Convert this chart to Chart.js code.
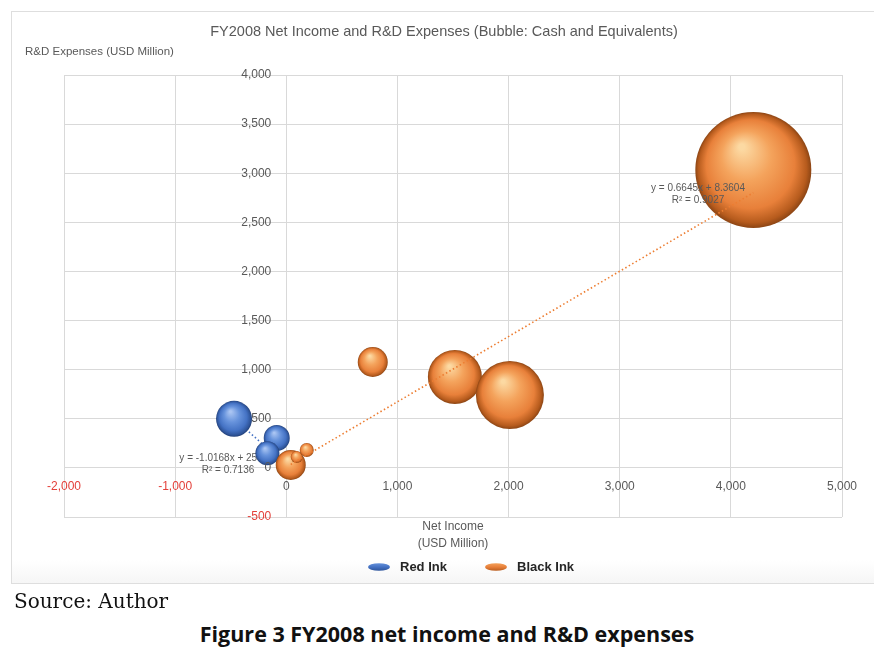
<!DOCTYPE html>
<html>
<head>
<meta charset="utf-8">
<script src="https://cdn.jsdelivr.net/npm/chart.js@4"></script>
<style>
  body { margin: 0; background: #fff; width: 874px; height: 652px; overflow: hidden; position: relative; }
  #box { position: absolute; left: 11px; top: 11px; width: 880px; height: 571px; border: 1px solid #dedede; background: linear-gradient(#fff 96%, #f6f6f6); }
  #wrap { position: absolute; left: 0; top: 0; width: 874px; height: 590px; }
  #source { position: absolute; left: 14px; top: 589px; font: 20px 'DejaVu Serif', serif; color: #111; }
  #caption { position: absolute; left: 0; top: 619px; width: 894px; text-align: center; font: bold 21.5px 'Open Sans', sans-serif; color: #111; }
</style>
</head>
<body>
<div id="box"></div>
<div id="wrap"><canvas id="chart"></canvas></div>
<div id="source">Source: Author</div>
<div id="caption">Figure 3 FY2008 net income and R&amp;D expenses</div>
<script>
// valores (USD milhões); tamanho = raio da bolha em px
const redInkX = [-470, -86, -170];
const redInkY = [500, 304, 150];
const redInkSize = [18, 13, 12];

const blackInkX = [40, 94, 184, 778, 1517, 2012, 4202];
const blackInkY = [30, 111, 182, 1078, 926, 742, 3033];
const blackInkSize = [15, 6, 7, 15, 27, 34, 58];

// linhas de tendência (extremos)
const redTrendX = [-470, -86];
const redTrendY = [503, 112];
const blackTrendX = [40, 4202];
const blackTrendY = [35, 2801];

const xTicks = [-2000, -1000, 0, 1000, 2000, 3000, 4000, 5000];
const yTicks = [-500, 0, 500, 1000, 1500, 2000, 2500, 3000, 3500, 4000];

const FONT = "'Liberation Sans', Arial, sans-serif";
const GREY = '#595959';
const RED = '#e3403a';

function toPoints(xs, ys, rs) {
  return xs.map((x, i) => rs ? { x: x, y: ys[i], r: rs[i] } : { x: x, y: ys[i] });
}

// gradiente para dar o efeito 3D das bolhas
function sphere(stops) {
  return function (ctx) {
    if (ctx.type !== 'data' || !ctx.raw) return stops[2];
    const chart = ctx.chart;
    const sx = chart.scales.x, sy = chart.scales.y;
    if (!sx || !sy) return stops[2];
    const cx = sx.getPixelForValue(ctx.raw.x);
    const cy = sy.getPixelForValue(ctx.raw.y);
    const r = ctx.raw.r;
    if (!isFinite(cx) || !isFinite(cy) || !isFinite(r)) return stops[2];
    const g = chart.ctx.createRadialGradient(cx - r * 0.2, cy - r * 0.4, r * 0.05, cx, cy, r);
    g.addColorStop(0, stops[0]);
    g.addColorStop(0.4, stops[1]);
    g.addColorStop(0.75, stops[2]);
    g.addColorStop(0.93, stops[3]);
    g.addColorStop(1, stops[4]);
    return g;
  };
}
const blueStops = ['#a9c4f2', '#6793dc', '#4472c4', '#2e5499', '#223f77'];
const orangeStops = ['#fcd9a2', '#f4a35c', '#e8803a', '#b65b1d', '#8c4514'];

// textos do gráfico desenhados sobre o canvas
const textPlugin = {
  id: 'excelText',
  beforeDatasetsDraw(chart) {
    const c = chart.ctx;
    c.save();
    c.fillStyle = GREY;
    c.font = '10px ' + FONT;
    c.textAlign = 'center';
    c.textBaseline = 'middle';
    c.fillText('y = -1.0168x + 25.348', 228, 458);
    c.fillText('R² = 0.7136', 228, 470);
    c.restore();
  },
  afterDatasetsDraw(chart) {
    const c = chart.ctx;
    const sx = chart.scales.x, sy = chart.scales.y;
    const x0 = sx.getPixelForValue(0), y0 = sy.getPixelForValue(0);
    c.save();
    c.font = '12px ' + FONT;
    c.textBaseline = 'middle';
    // eixo Y cruzando em x = 0
    c.textAlign = 'right';
    sy.ticks.forEach(t => {
      c.fillStyle = t.value < 0 ? RED : GREY;
      c.fillText(t.value.toLocaleString('en-US'), x0 - 15, sy.getPixelForValue(t.value));
    });
    // eixo X cruzando em y = 0
    c.textAlign = 'center';
    sx.ticks.forEach(t => {
      c.fillStyle = t.value < 0 ? RED : GREY;
      c.fillText(t.value.toLocaleString('en-US'), sx.getPixelForValue(t.value), y0 + 19);
    });
    // rótulo da tendência laranja
    c.fillStyle = GREY;
    c.font = '10px ' + FONT;
    c.fillText('y = 0.6645x + 8.3604', 698, 188);
    c.fillText('R² = 0.9027', 698, 200);
    c.restore();
  },
  afterDraw(chart) {
    const c = chart.ctx;
    c.save();
    c.fillStyle = GREY;
    c.textBaseline = 'middle';
    c.textAlign = 'center';
    c.font = '14.5px ' + FONT;
    c.fillText('FY2008 Net Income and R&D Expenses (Bubble: Cash and Equivalents)', 444, 32);
    c.font = '12px ' + FONT;
    c.fillText('Net Income', 453, 527);
    c.fillText('(USD Million)', 453, 544);
    c.textAlign = 'left';
    c.font = '11.5px ' + FONT;
    c.fillText('R&D Expenses (USD Million)', 25, 52);
    // legenda
    const items = [
      { label: chart.data.datasets[1].label, stops: blueStops, x: 368 },
      { label: chart.data.datasets[0].label, stops: orangeStops, x: 485 }
    ];
    items.forEach(it => {
      const g = c.createLinearGradient(0, 563, 0, 571);
      g.addColorStop(0, it.stops[1]);
      g.addColorStop(0.5, it.stops[2]);
      g.addColorStop(1, it.stops[3]);
      c.fillStyle = g;
      c.beginPath();
      c.ellipse(it.x + 11, 567, 11, 3.8, 0, 0, Math.PI * 2);
      c.fill();
      c.fillStyle = '#262626';
      c.font = 'bold 13px ' + FONT;
      c.fillText(it.label, it.x + 32, 567);
    });
    c.restore();
  }
};

new Chart(document.getElementById('chart'), {
  type: 'bubble',
  data: {
    datasets: [
      {
        label: 'Black Ink',
        data: toPoints(blackInkX, blackInkY, blackInkSize),
        backgroundColor: sphere(orangeStops),
        borderWidth: 0,
        hoverRadius: 0,
        order: 1
      },
      {
        label: 'Red Ink',
        data: toPoints(redInkX, redInkY, redInkSize),
        backgroundColor: sphere(blueStops),
        borderWidth: 0,
        hoverRadius: 0,
        order: 2
      },
      {
        type: 'line',
        label: 'Black Ink trend',
        data: toPoints(blackTrendX, blackTrendY),
        borderColor: '#ed7d31',
        borderWidth: 1.6,
        borderDash: [1.5, 2.5],
        pointRadius: 0,
        fill: false,
        order: 0
      },
      {
        type: 'line',
        label: 'Red Ink trend',
        data: toPoints(redTrendX, redTrendY),
        borderColor: '#4472c4',
        borderWidth: 1.6,
        borderDash: [1.5, 2.5],
        pointRadius: 0,
        fill: false,
        order: 3
      }
    ]
  },
  options: {
    responsive: true,
    maintainAspectRatio: false,
    animation: false,
    layout: { autoPadding: false, padding: { left: 64, right: 32, top: 75, bottom: 73 } },
    plugins: {
      legend: { display: false },
      title: { display: false },
      tooltip: { enabled: false }
    },
    scales: {
      x: {
        type: 'linear',
        min: xTicks[0],
        max: xTicks[xTicks.length - 1],
        afterBuildTicks: s => { s.ticks = xTicks.map(v => ({ value: v })); },
        ticks: { display: false },
        grid: { color: '#d9d9d9', drawTicks: false },
        border: { display: false }
      },
      y: {
        type: 'linear',
        min: yTicks[0],
        max: yTicks[yTicks.length - 1],
        afterBuildTicks: s => { s.ticks = yTicks.map(v => ({ value: v })); },
        ticks: { display: false },
        grid: { color: '#d9d9d9', drawTicks: false },
        border: { display: false }
      }
    }
  },
  plugins: [textPlugin]
});
</script>
</body>
</html>
